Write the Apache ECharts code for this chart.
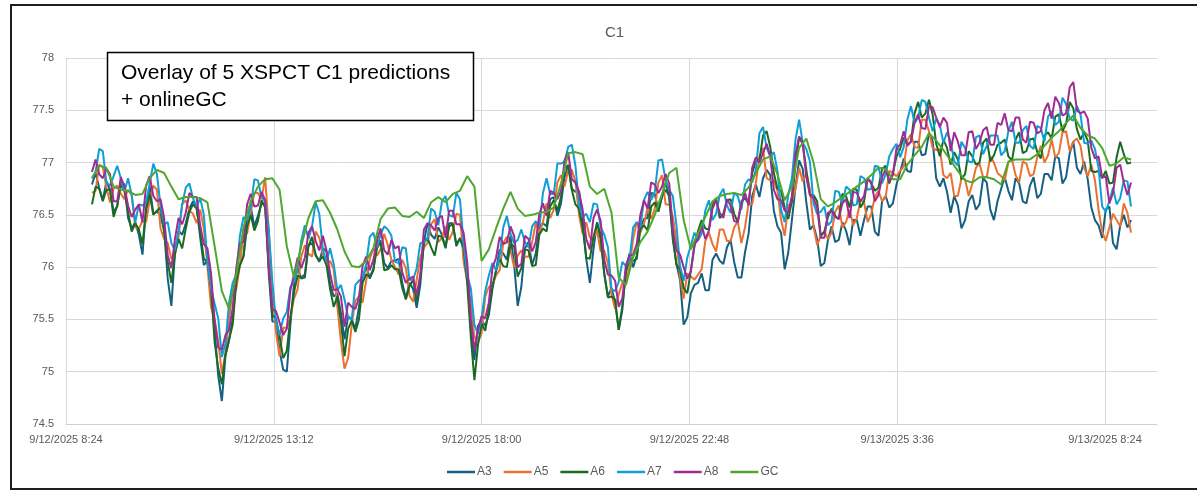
<!DOCTYPE html>
<html><head><meta charset="utf-8">
<script src="https://cdn.jsdelivr.net/npm/echarts@6/dist/echarts.min.js"></script>
<style>html,body{margin:0;padding:0;background:#fff}#c{width:1197px;height:492px}</style>
</head><body><div id="c"></div>
<script>
// Time axis: hours after 9/12/2025 8:24. Predictions every 5 min from 9:00, GC every 10 min.
const startHour = 0.6;
const stepHours = 1 / 12;
const gcStepHours = 1 / 6;
const xTickLabels = ['9/12/2025 8:24','9/12/2025 13:12','9/12/2025 18:00','9/12/2025 22:48','9/13/2025 3:36','9/13/2025 8:24'];
const seriesNames = ['A3','A5','A6','A7','A8','GC'];
const colors = ['#156082','#E97132','#196B24','#0F9ED5','#A02B93','#4EA72E'];

const a3 = [
76.79,76.90,76.76,76.64,76.82,76.74,76.53,76.58,76.82,76.79,76.47,76.37,76.43,76.31,76.12,76.57,76.78,76.51,76.53,76.50,
76.35,75.89,75.63,76.13,76.35,76.31,76.42,76.56,76.63,76.58,76.28,76.02,76.06,75.79,75.40,74.96,74.72,75.15,75.30,75.51,
75.87,76.02,76.11,76.47,76.58,76.39,76.49,76.61,76.60,75.94,75.48,75.48,75.20,75.02,75.00,75.45,75.84,75.99,75.89,75.90,
76.21,76.23,76.12,76.05,76.18,76.15,75.84,75.72,75.75,75.56,75.31,75.53,75.50,75.41,75.62,75.88,76.01,75.89,75.97,76.25,
76.25,76.04,75.99,76.06,76.06,76.08,75.85,75.70,75.85,75.79,75.61,75.83,76.24,76.42,76.31,76.27,76.38,76.31,76.18,76.42,
76.42,76.20,76.28,76.17,75.93,75.42,75.11,75.44,75.49,75.44,75.54,75.79,75.97,76.17,76.13,76.07,76.30,76.03,75.63,75.81,
76.18,76.24,76.02,76.13,76.39,76.42,76.39,76.65,76.67,76.49,76.61,76.86,76.98,76.75,76.72,76.73,76.46,76.08,75.85,76.17,
76.43,76.31,75.94,75.72,75.80,75.66,75.40,75.59,75.98,76.13,76.00,76.11,76.38,76.46,76.47,76.71,76.70,76.54,76.67,76.74,
76.68,76.26,76.03,75.88,75.45,75.52,75.75,75.83,75.85,75.94,75.78,75.78,76.07,76.13,76.06,76.03,76.19,76.26,76.05,75.90,
75.90,76.14,76.32,76.68,76.79,76.67,76.85,76.93,76.88,76.54,76.39,76.33,75.98,76.14,76.45,76.77,77.02,76.94,76.62,76.36,
76.40,76.27,76.01,76.04,76.26,76.39,76.24,76.26,76.43,76.35,76.21,76.45,76.45,76.30,76.45,76.58,76.58,76.34,76.30,76.63,
76.68,76.57,76.61,76.79,76.91,77.04,76.92,76.91,77.20,77.20,77.07,77.08,77.28,77.21,76.85,76.77,76.85,76.72,76.52,76.68,
76.59,76.37,76.45,76.63,76.69,76.55,76.60,76.85,76.81,76.55,76.45,76.63,76.75,76.86,76.73,76.64,76.85,76.80,76.63,76.61,
76.78,76.86,76.66,76.70,76.89,76.89,76.83,77.06,77.04,76.80,76.86,77.09,77.20,76.95,76.89,77.01,76.84,76.57,76.45,76.40,
76.28,76.55,76.58,76.23,76.17,76.40,76.50,76.38,76.45];
const a5 = [
76.71,76.73,76.98,76.96,76.76,76.62,76.75,76.78,76.70,76.65,76.74,76.69,76.38,76.37,76.44,76.43,76.64,76.78,76.74,76.37,
76.27,76.23,76.08,76.12,76.29,76.60,76.64,76.54,76.51,76.42,76.55,76.37,76.01,75.62,75.50,75.29,74.98,75.18,75.51,75.78,
75.79,76.02,76.33,76.32,76.52,76.71,76.71,76.65,76.86,76.36,75.75,75.38,75.15,75.42,75.42,75.52,75.70,75.79,76.10,76.21,
76.13,76.10,76.34,76.28,76.12,76.02,76.06,75.98,75.63,75.29,75.03,75.13,75.45,75.68,75.72,75.66,75.87,76.08,76.18,76.11,
76.17,76.32,76.21,76.07,76.00,75.93,76.07,75.99,75.73,75.67,75.88,76.09,76.19,76.23,76.41,76.46,76.24,76.28,76.39,76.26,
76.34,76.51,76.50,76.05,75.87,75.65,75.33,75.28,75.37,75.72,75.81,75.83,75.92,75.97,76.23,76.29,76.16,76.00,76.11,76.16,
76.10,76.10,76.24,76.42,76.33,76.43,76.61,76.47,76.55,76.81,76.88,76.77,76.93,76.93,76.82,76.50,76.32,76.43,76.28,76.28,
76.35,76.15,76.16,76.04,75.74,75.60,75.74,75.85,75.86,76.00,76.27,76.43,76.33,76.41,76.57,76.46,76.56,76.81,76.88,76.60,
76.60,76.48,76.25,75.91,75.70,75.94,75.91,75.88,75.93,75.98,76.25,76.33,76.22,76.15,76.36,76.36,76.25,76.25,76.38,76.44,
76.23,76.38,76.61,76.60,76.80,77.06,77.14,76.85,76.83,76.83,76.73,76.45,76.30,76.59,76.62,76.75,76.95,76.82,76.90,76.74,
76.39,76.21,76.30,76.34,76.27,76.33,76.53,76.59,76.38,76.43,76.55,76.40,76.47,76.64,76.62,76.43,76.51,76.67,76.73,76.63,
76.67,76.92,76.90,76.87,76.92,76.96,77.21,77.27,77.15,77.14,77.41,77.41,77.30,77.14,77.12,77.13,76.88,76.85,76.90,76.68,
76.68,76.85,76.84,76.68,76.80,76.95,76.99,76.86,76.86,77.06,77.00,76.90,76.87,76.83,77.00,77.03,76.88,76.81,77.01,76.99,
76.87,76.89,77.05,77.16,77.00,77.07,77.22,77.05,77.09,77.29,77.30,77.11,77.20,77.23,77.16,76.95,76.87,76.98,76.83,76.55,
76.34,76.25,76.38,76.51,76.45,76.39,76.61,76.52,76.33];
const a6 = [
76.60,76.77,76.75,76.63,76.74,76.74,76.48,76.59,76.79,76.73,76.53,76.34,76.42,76.36,76.22,76.55,76.70,76.50,76.54,76.57,
76.34,76.05,75.85,76.13,76.27,76.18,76.37,76.53,76.60,76.56,76.34,76.08,76.05,75.80,75.28,75.03,74.88,75.17,75.31,75.45,
75.86,76.02,76.10,76.39,76.50,76.35,76.44,76.64,76.57,76.01,75.54,75.51,75.34,75.13,75.20,75.52,75.76,75.92,75.90,75.93,
76.20,76.29,76.11,76.06,76.10,76.02,75.79,75.62,75.72,75.48,75.15,75.41,75.49,75.38,75.50,75.85,75.93,75.91,75.98,76.18,
76.24,75.97,75.98,76.02,75.98,75.98,75.80,75.69,75.82,75.88,75.67,75.90,76.23,76.28,76.19,76.11,76.30,76.29,76.19,76.39,
76.41,76.22,76.27,76.19,75.85,75.34,74.92,75.26,75.46,75.39,75.60,75.82,75.96,76.08,76.01,76.00,76.22,76.20,75.91,75.99,
76.17,76.16,76.01,76.02,76.31,76.37,76.34,76.58,76.64,76.54,76.67,76.95,76.97,76.74,76.60,76.56,76.38,76.09,76.08,76.29,
76.42,76.27,75.93,75.71,75.72,75.69,75.40,75.63,75.95,76.08,76.06,76.08,76.37,76.40,76.35,76.58,76.62,76.53,76.68,76.81,
76.67,76.30,76.02,75.98,75.80,75.75,75.97,76.20,76.35,76.45,76.37,76.36,76.59,76.66,76.47,76.51,76.64,76.65,76.51,76.43,
76.63,76.66,76.61,76.90,77.01,77.02,77.26,77.30,77.15,76.90,76.75,76.73,76.57,76.46,76.63,76.98,77.24,77.18,76.93,76.69,
76.69,76.63,76.30,76.34,76.48,76.56,76.49,76.46,76.70,76.68,76.57,76.75,76.74,76.57,76.63,76.85,76.80,76.73,76.76,76.94,
76.97,76.80,76.90,77.06,77.13,77.24,77.17,77.20,77.47,77.58,77.43,77.47,77.60,77.46,77.18,77.06,77.22,77.14,76.98,77.10,
77.03,76.84,76.89,77.11,77.06,76.98,77.00,77.19,77.23,77.01,77.07,77.17,77.19,77.22,77.06,77.02,77.22,77.29,77.09,77.11,
77.22,77.23,77.10,77.04,77.26,77.29,77.23,77.44,77.46,77.30,77.37,77.58,77.52,77.32,77.22,77.29,77.21,76.92,76.91,76.92,
76.85,76.92,76.80,76.81,77.05,77.20,77.08,76.99,77.00];
const a7 = [
76.85,76.91,77.13,77.11,76.81,76.78,76.87,76.97,76.85,76.72,76.85,76.69,76.43,76.60,76.59,76.62,76.80,76.99,76.89,76.59,
76.41,76.43,76.23,76.16,76.34,76.60,76.76,76.80,76.66,76.58,76.66,76.50,76.06,75.80,75.65,75.51,75.14,75.27,75.66,75.85,
75.93,76.30,76.48,76.45,76.57,76.84,76.83,76.67,76.63,76.36,75.86,75.48,75.35,75.51,75.57,75.81,75.86,75.98,76.25,76.40,
76.27,76.39,76.62,76.51,76.17,76.05,76.18,76.03,75.78,75.83,75.69,75.52,75.50,75.83,75.87,75.89,76.03,76.29,76.33,76.19,
76.31,76.39,76.36,76.30,76.05,76.04,76.19,76.18,75.88,75.88,75.99,76.23,76.24,76.27,76.56,76.53,76.40,76.63,76.68,76.50,
76.48,76.71,76.65,76.23,75.92,75.80,75.45,75.36,75.52,75.77,75.92,76.04,75.97,76.10,76.38,76.49,76.32,76.23,76.26,76.36,
76.24,76.19,76.39,76.44,76.38,76.71,76.85,76.70,76.70,76.99,76.99,77.01,77.15,77.17,76.97,76.60,76.48,76.51,76.43,76.61,
76.60,76.38,76.31,76.19,75.79,75.77,75.86,76.05,76.01,76.07,76.38,76.43,76.38,76.64,76.72,76.64,76.72,77.02,77.03,76.83,
76.74,76.68,76.40,76.01,75.87,76.09,76.21,76.33,76.26,76.32,76.54,76.64,76.45,76.51,76.69,76.75,76.59,76.52,76.71,76.68,
76.55,76.79,76.84,76.81,76.93,77.28,77.34,77.14,77.06,77.10,76.92,76.55,76.43,76.69,76.85,77.22,77.41,77.19,77.13,77.01,
76.61,76.51,76.53,76.58,76.40,76.44,76.73,76.72,76.61,76.77,76.74,76.59,76.60,76.87,76.85,76.74,76.75,76.97,76.96,76.80,
76.89,77.06,77.13,77.18,77.05,77.15,77.41,77.54,77.38,77.43,77.60,77.58,77.43,77.30,77.42,77.36,77.19,77.29,77.20,77.01,
76.97,77.20,77.14,77.01,77.00,77.24,77.26,77.08,77.16,77.26,77.26,77.26,77.07,77.11,77.30,77.39,77.19,77.19,77.31,77.35,
77.16,77.13,77.35,77.33,77.20,77.44,77.49,77.36,77.39,77.62,77.56,77.42,77.40,77.54,77.46,77.19,77.18,77.21,77.13,76.95,
76.58,76.53,76.63,76.76,76.60,76.66,76.83,76.82,76.58];
const a8 = [
76.91,77.03,76.89,76.85,76.94,76.89,76.63,76.63,76.86,76.77,76.59,76.48,76.55,76.60,76.43,76.78,76.87,76.68,76.63,76.65,
76.47,76.11,75.99,76.27,76.47,76.41,76.52,76.71,76.67,76.67,76.40,76.22,76.18,75.94,75.49,75.23,75.21,75.35,75.40,75.61,
75.99,76.23,76.24,76.60,76.70,76.58,76.59,76.72,76.64,76.00,75.60,75.58,75.47,75.35,75.41,75.78,75.93,76.09,75.99,76.09,
76.33,76.39,76.25,76.16,76.30,76.16,75.94,75.78,75.79,75.72,75.43,75.66,75.62,75.60,75.71,76.01,76.10,75.97,76.07,76.26,
76.37,76.16,76.12,76.26,76.18,76.20,75.95,75.85,75.89,75.91,75.73,75.93,76.36,76.42,76.40,76.35,76.47,76.49,76.28,76.54,
76.54,76.41,76.41,76.33,76.05,75.51,75.21,75.41,75.53,75.51,75.66,75.99,76.09,76.29,76.22,76.24,76.39,76.30,76.00,76.03,
76.30,76.27,76.15,76.24,76.51,76.61,76.49,76.73,76.71,76.65,76.73,77.02,77.10,76.84,76.81,76.72,76.55,76.27,76.17,76.47,
76.55,76.44,76.07,75.93,75.92,75.87,75.62,75.70,76.02,76.11,76.12,76.22,76.50,76.64,76.56,76.81,76.79,76.71,76.77,76.89,
76.80,76.36,76.16,76.12,76.00,75.89,75.96,76.22,76.26,76.40,76.27,76.35,76.56,76.64,76.52,76.47,76.65,76.59,76.44,76.43,
76.60,76.71,76.59,76.95,77.05,77.00,77.09,77.18,77.06,76.74,76.65,76.64,76.54,76.52,76.68,77.08,77.25,77.19,76.86,76.69,
76.66,76.57,76.28,76.28,76.52,76.54,76.48,76.46,76.61,76.65,76.47,76.72,76.71,76.63,76.68,76.85,76.81,76.63,76.69,76.86,
76.94,76.82,76.88,77.14,77.17,77.30,77.16,77.20,77.38,77.46,77.33,77.32,77.54,77.53,77.43,77.34,77.43,77.38,77.11,77.29,
77.20,77.07,77.07,77.29,77.30,77.13,77.19,77.31,77.34,77.17,77.17,77.38,77.36,77.47,77.31,77.30,77.43,77.43,77.22,77.19,
77.39,77.38,77.28,77.30,77.50,77.57,77.42,77.63,77.57,77.45,77.47,77.72,77.77,77.50,77.47,77.49,77.42,77.14,77.04,77.06,
76.86,76.87,76.61,76.71,76.95,76.98,76.81,76.69,76.81];
const gc = [
76.85,76.97,76.95,76.77,76.74,76.73,76.69,76.70,76.85,76.93,76.90,76.77,76.65,76.67,76.67,76.66,76.62,76.20,75.77,75.60,
75.93,76.38,76.63,76.77,76.84,76.85,76.74,76.20,75.90,76.20,76.47,76.63,76.64,76.52,76.36,76.15,76.01,76.00,76.06,76.18,
76.46,76.56,76.57,76.49,76.48,76.53,76.47,76.62,76.67,76.62,76.70,76.73,76.87,76.77,76.06,76.17,76.37,76.56,76.72,76.56,
76.49,76.50,76.52,76.53,76.57,76.80,77.09,77.10,77.08,76.77,76.70,76.75,76.52,75.90,75.83,76.10,76.24,76.34,76.50,76.70,
76.90,76.95,76.45,76.17,76.33,76.48,76.63,76.68,76.70,76.71,76.69,76.76,76.90,77.03,77.06,76.89,76.64,76.77,77.14,77.23,
77.00,76.65,76.58,76.62,76.67,76.72,76.77,76.82,76.88,76.95,76.94,76.84,76.84,76.98,77.07,77.15,77.28,77.21,77.12,77.02,
76.92,76.83,76.81,76.86,76.86,76.84,76.79,77.01,77.03,77.03,77.03,77.08,77.16,77.24,77.30,77.38,77.45,77.33,77.26,77.23,
77.14,76.97,76.99,77.05,77.03];

const seriesValues = [a3, a5, a6, a7, a8, gc];
const seriesSteps = [stepHours, stepHours, stepHours, stepHours, stepHours, gcStepHours];
const FONT = '"Liberation Sans", Arial, sans-serif';

const chart = echarts.init(document.getElementById('c'), null, { renderer: 'canvas' });
chart.setOption({
  animation: false,
  backgroundColor: '#ffffff',
  color: colors,
  title: {
    text: 'C1', left: 600, top: 20,
    textStyle: { color: '#595959', fontSize: 15, fontWeight: 'normal', fontFamily: FONT }
  },
  legend: {
    data: seriesNames, left: 442, top: 461, icon: 'rect', itemWidth: 28, itemHeight: 2.5, itemGap: 12,
    textStyle: { color: '#595959', fontSize: 12, fontFamily: FONT, padding: [0, 0, 0, -3] }
  },
  grid: { left: 66, right: 40, top: 58, bottom: 68, containLabel: false },
  xAxis: {
    type: 'value', min: 0, max: 25.2, interval: 4.8,
    axisLine: { show: true, lineStyle: { color: '#d0d0d0', width: 1 } },
    axisTick: { show: false },
    axisLabel: {
      color: '#595959', fontSize: 11, fontFamily: FONT, margin: 10,
      formatter: function (v) {
        const k = Math.round(v / 4.8);
        if (Math.abs(v - k * 4.8) > 1e-6) return '';
        return xTickLabels[k] || '';
      }
    },
    splitLine: { show: true, lineStyle: { color: ['#d9d9d9','#d9d9d9','#d9d9d9','#d9d9d9','#d9d9d9','#d9d9d9','rgba(0,0,0,0)'], width: 1 } }
  },
  yAxis: {
    type: 'value', min: 74.5, max: 78, interval: 0.5,
    axisLine: { show: false }, axisTick: { show: false },
    axisLabel: { color: '#595959', fontSize: 11, fontFamily: FONT, margin: 12 },
    splitLine: { lineStyle: { color: '#d9d9d9', width: 1 } }
  },
  series: seriesNames.map((name, s) => ({
    name: name, type: 'line', symbol: 'none', showSymbol: false,
    lineStyle: { width: 2, color: colors[s] },
    itemStyle: { color: colors[s] },
    data: seriesValues[s].map((v, i) => [startHour + i * seriesSteps[s], v]),
    z: 2 + s
  })),
  graphic: [
    { type: 'rect', shape: { x: 11, y: 5, width: 1200, height: 484 },
      style: { fill: 'rgba(0,0,0,0)', stroke: '#1f1f1f', lineWidth: 2 }, z: 100 },
    { type: 'rect', shape: { x: 107.5, y: 52.5, width: 366, height: 68 },
      style: { fill: '#ffffff', stroke: '#000000', lineWidth: 1.5 }, z: 100 },
    { type: 'text', x: 121, y: 60, z: 101,
      style: { text: 'Overlay of 5 XSPCT C1 predictions\n+ onlineGC', fill: '#000000',
               fontSize: 21, fontFamily: FONT, lineHeight: 27 } }
  ]
});
</script></body></html>
